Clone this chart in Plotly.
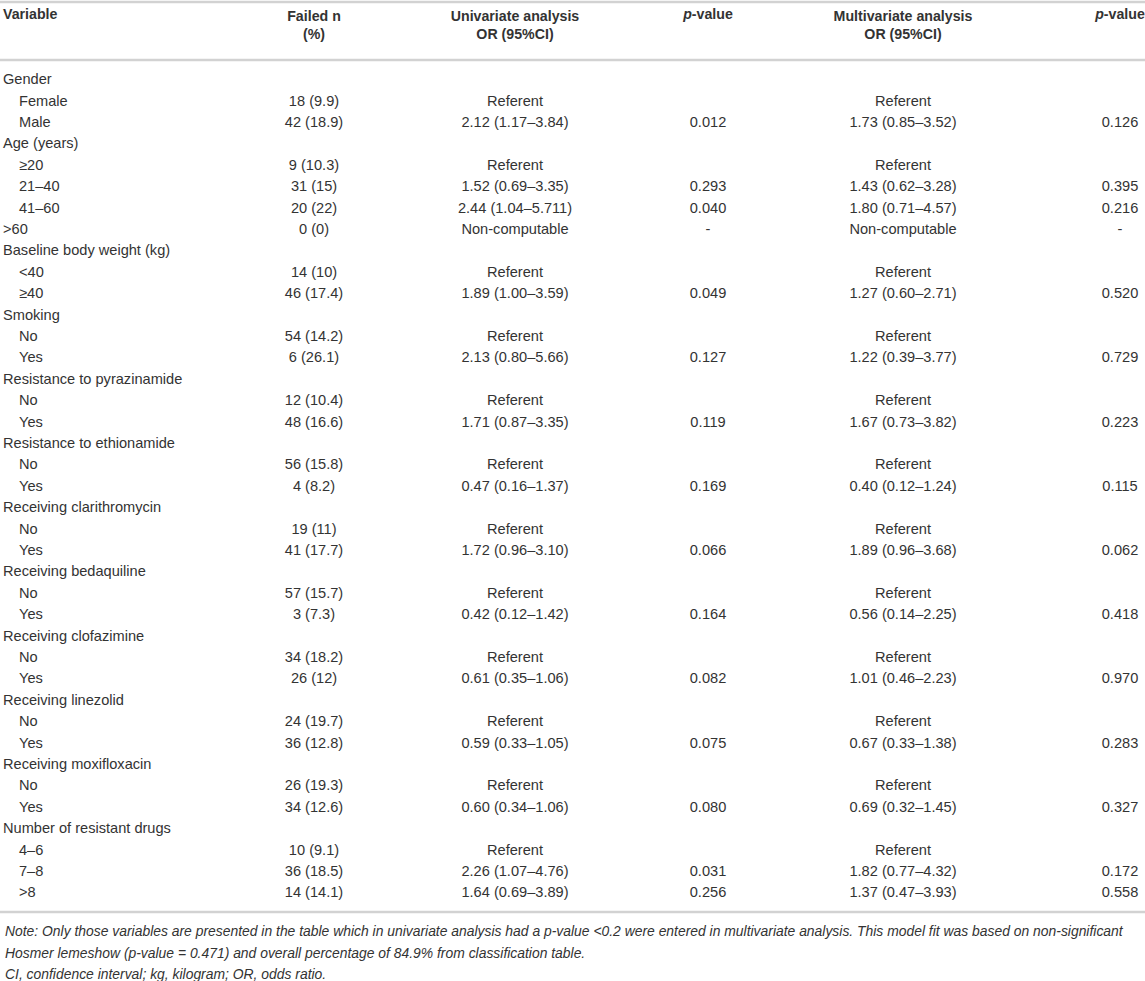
import plotly.graph_objects as go

# table content
variables = [
    "Gender", "Female", "Male",
    "Age (years)", "≥20", "21–40", "41–60", ">60",
    "Baseline body weight (kg)", "<40", "≥40",
    "Smoking", "No", "Yes",
    "Resistance to pyrazinamide", "No", "Yes",
    "Resistance to ethionamide", "No", "Yes",
    "Receiving clarithromycin", "No", "Yes",
    "Receiving bedaquiline", "No", "Yes",
    "Receiving clofazimine", "No", "Yes",
    "Receiving linezolid", "No", "Yes",
    "Receiving moxifloxacin", "No", "Yes",
    "Number of resistant drugs", "4–6", "7–8", ">8",
]
# 0 = group heading (not indented), 1 = level (indented)
indent = [
    0, 1, 1,
    0, 1, 1, 1, 0,
    0, 1, 1,
    0, 1, 1,
    0, 1, 1,
    0, 1, 1,
    0, 1, 1,
    0, 1, 1,
    0, 1, 1,
    0, 1, 1,
    0, 1, 1,
    0, 1, 1, 1,
]
failed_n = [
    "", "18 (9.9)", "42 (18.9)",
    "", "9 (10.3)", "31 (15)", "20 (22)", "0 (0)",
    "", "14 (10)", "46 (17.4)",
    "", "54 (14.2)", "6 (26.1)",
    "", "12 (10.4)", "48 (16.6)",
    "", "56 (15.8)", "4 (8.2)",
    "", "19 (11)", "41 (17.7)",
    "", "57 (15.7)", "3 (7.3)",
    "", "34 (18.2)", "26 (12)",
    "", "24 (19.7)", "36 (12.8)",
    "", "26 (19.3)", "34 (12.6)",
    "", "10 (9.1)", "36 (18.5)", "14 (14.1)",
]
uni_or = [
    "", "Referent", "2.12 (1.17–3.84)",
    "", "Referent", "1.52 (0.69–3.35)", "2.44 (1.04–5.711)", "Non-computable",
    "", "Referent", "1.89 (1.00–3.59)",
    "", "Referent", "2.13 (0.80–5.66)",
    "", "Referent", "1.71 (0.87–3.35)",
    "", "Referent", "0.47 (0.16–1.37)",
    "", "Referent", "1.72 (0.96–3.10)",
    "", "Referent", "0.42 (0.12–1.42)",
    "", "Referent", "0.61 (0.35–1.06)",
    "", "Referent", "0.59 (0.33–1.05)",
    "", "Referent", "0.60 (0.34–1.06)",
    "", "Referent", "2.26 (1.07–4.76)", "1.64 (0.69–3.89)",
]
uni_p = [
    "", "", "0.012",
    "", "", "0.293", "0.040", "-",
    "", "", "0.049",
    "", "", "0.127",
    "", "", "0.119",
    "", "", "0.169",
    "", "", "0.066",
    "", "", "0.164",
    "", "", "0.082",
    "", "", "0.075",
    "", "", "0.080",
    "", "", "0.031", "0.256",
]
multi_or = [
    "", "Referent", "1.73 (0.85–3.52)",
    "", "Referent", "1.43 (0.62–3.28)", "1.80 (0.71–4.57)", "Non-computable",
    "", "Referent", "1.27 (0.60–2.71)",
    "", "Referent", "1.22 (0.39–3.77)",
    "", "Referent", "1.67 (0.73–3.82)",
    "", "Referent", "0.40 (0.12–1.24)",
    "", "Referent", "1.89 (0.96–3.68)",
    "", "Referent", "0.56 (0.14–2.25)",
    "", "Referent", "1.01 (0.46–2.23)",
    "", "Referent", "0.67 (0.33–1.38)",
    "", "Referent", "0.69 (0.32–1.45)",
    "", "Referent", "1.82 (0.77–4.32)", "1.37 (0.47–3.93)",
]
multi_p = [
    "", "", "0.126",
    "", "", "0.395", "0.216", "-",
    "", "", "0.520",
    "", "", "0.729",
    "", "", "0.223",
    "", "", "0.115",
    "", "", "0.062",
    "", "", "0.418",
    "", "", "0.970",
    "", "", "0.283",
    "", "", "0.327",
    "", "", "0.172", "0.558",
]
headers = ["Variable", "Failed n<br>(%)", "Univariate analysis<br>OR (95%CI)",
           "<i>p</i>-value", "Multivariate analysis<br>OR (95%CI)", "<i>p</i>-value"]
notes = [
    "Note: Only those variables are presented in the table which in univariate analysis had a p-value <0.2 were entered in multivariate analysis. "
    "This model fit was based on non-significant",
    "Hosmer lemeshow (p-value = 0.471) and overall percentage of 84.9% from classification table.",
    "CI, confidence interval; kg, kilogram; OR, odds ratio.",
]

FONT = "Liberation Sans, Arial, Helvetica, sans-serif"
TXT = "#333333"
RULE = "#d2d2d2"
FS = 14.6
HFS = 14.2

row_y0 = 80.5
row_step = 21.4
rows_y = [row_y0 + i * row_step for i in range(len(variables))]

col_x = [3, 314, 515, 708, 903, 1120]

fig = go.Figure()

# variable column (left aligned, levels indented)
fig.add_trace(go.Scatter(
    x=[3 + 16 * d for d in indent], y=rows_y, text=variables,
    mode="text", textposition="middle right", cliponaxis=False,
    textfont=dict(family=FONT, size=FS, color=TXT), hoverinfo="skip"))

for cx, col in zip(col_x[1:], [failed_n, uni_or, uni_p, multi_or, multi_p]):
    fig.add_trace(go.Scatter(
        x=[cx] * len(col), y=rows_y, text=col,
        mode="text", textposition="middle center", cliponaxis=False,
        textfont=dict(family=FONT, size=FS, color=TXT), hoverinfo="skip"))

# header row
fig.add_trace(go.Scatter(
    x=[3], y=[15.5], text=["<b>" + headers[0] + "</b>"],
    mode="text", textposition="middle right", cliponaxis=False,
    textfont=dict(family=FONT, size=HFS, color=TXT), hoverinfo="skip"))
fig.add_trace(go.Scatter(
    x=col_x[1:], y=[26.5, 26.5, 15.5, 26.5, 15.5],
    text=["<b>%s</b>" % h for h in headers[1:]],
    mode="text", textposition="middle center", cliponaxis=False,
    textfont=dict(family=FONT, size=HFS, color=TXT), hoverinfo="skip"))

# horizontal rules
for yy in [2, 60, 912]:
    fig.add_shape(type="line", x0=0, x1=1145, y0=yy, y1=yy,
                  line=dict(color=RULE, width=2.5))

for i, t in enumerate(notes):
    fig.add_annotation(x=3, y=931 + i * 21.5, text="<i>" + t + "</i>",
                       showarrow=False, xanchor="left", yanchor="middle",
                       font=dict(family=FONT, size=13.9, color=TXT))

fig.update_xaxes(range=[0, 1145], visible=False, fixedrange=True)
fig.update_yaxes(range=[981, 0], visible=False, fixedrange=True)
fig.update_layout(width=1145, height=981, margin=dict(l=0, r=0, t=0, b=0),
                  showlegend=False, plot_bgcolor="white", paper_bgcolor="white")

# drop the default 8px body margin so the figure fills the window exactly
fig.write_html("out.html",
               config={"displayModeBar": False},
               post_script="document.body.style.margin='0';"
                           "document.body.style.overflow='hidden';")
